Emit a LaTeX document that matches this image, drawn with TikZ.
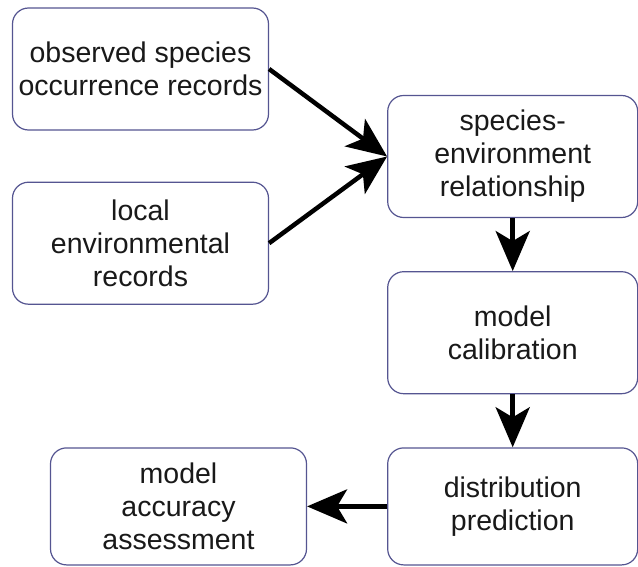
\documentclass[tikz,border=0pt]{standalone}
\usepackage{fontspec}
\setmainfont{Liberation Sans}
\usetikzlibrary{positioning,arrows.meta}
\definecolor{boxline}{RGB}{85,85,145}
\tikzset{x=1pt, y=1pt}
\tikzstyle{box}=[draw=boxline, line width=1.2pt, rounded corners=16pt, fill=white, minimum width=256pt, minimum height=122pt, align=center, text=black!90, font={\fontsize{28.5}{33}\selectfont}]
\tikzstyle{rbox}=[box, minimum width=250pt]
\tikzstyle{arrow}=[-{Stealth[length=40pt,width=34pt,inset=10pt]}, line width=4.5pt]

\begin{document}
\begin{tikzpicture}
        \useasboundingbox (0,0) rectangle (638,-567);
        \node[box] (obs) at (140.5,-69) {observed species\\occurrence records};
        \node[box] (env) [below= 51pt of obs] {local\\environmental\\records};
        \node[rbox] (rel) [right= 118pt of obs, yshift=-87.5pt] {species-\\environment\\relationship};
        \node[rbox] (cal) [below= 53pt of rel] {model\\calibration};
        \node[rbox, minimum height=117pt] (pred) [below= 53pt of cal] {distribution\\prediction};
        \node[box, minimum height=117pt] (acc) [left= 80pt of pred] {model\\accuracy\\assessment};
        \draw[arrow] (obs.east) -- (rel.west);
        \draw[arrow] (env.east) -- (rel.west);
        \draw[arrow] (rel) -- (cal);
        \draw[arrow] (cal) -- (pred);
        \draw[arrow] (pred) -- (acc);
\end{tikzpicture}
\end{document}
